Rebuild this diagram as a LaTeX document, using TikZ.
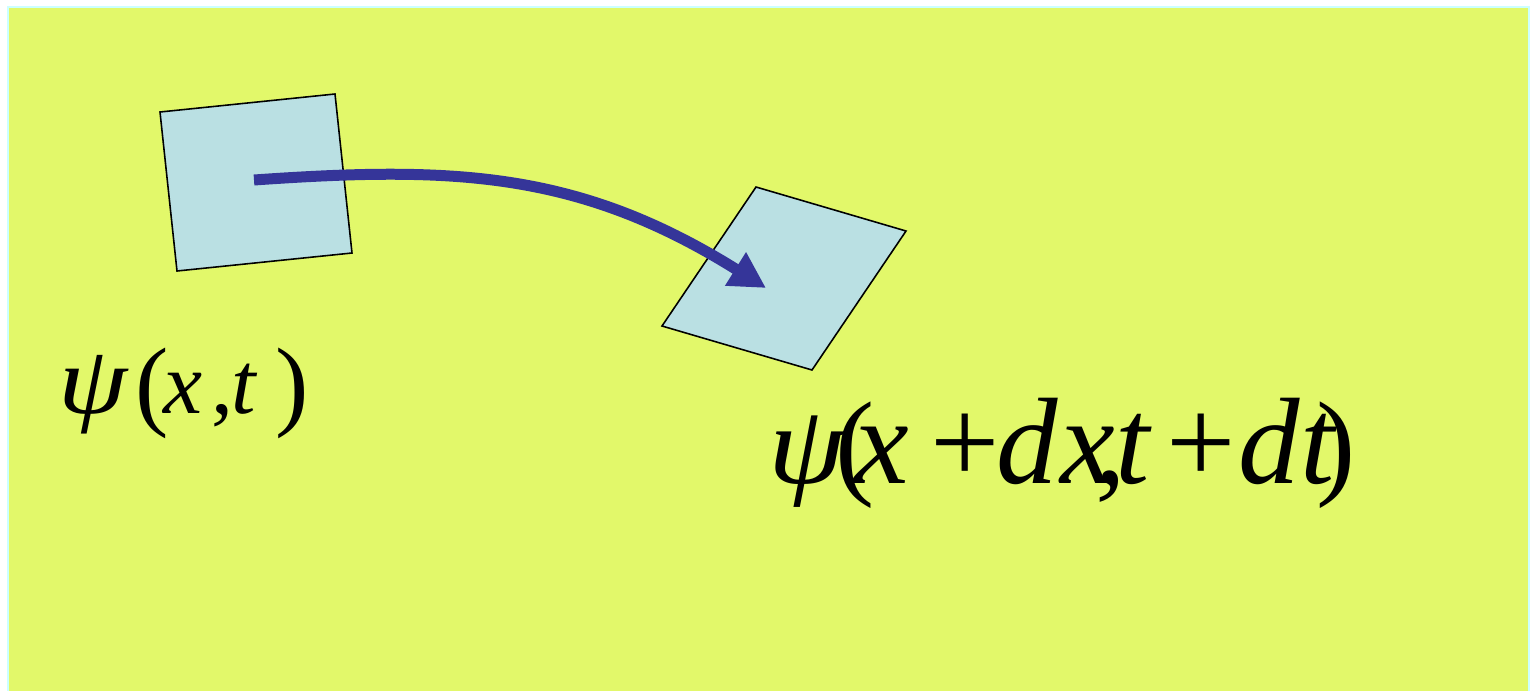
\documentclass[tikz,border=0pt]{standalone}
\usepackage{fontspec}
\setmainfont{Liberation Serif}
\usetikzlibrary{arrows.meta}

\definecolor{sheet}{RGB}{226,248,106}
\definecolor{sheetrim}{RGB}{204,255,255}
\definecolor{cellfill}{RGB}{186,224,227}
\definecolor{flowblue}{RGB}{53,53,153}

\newcommand{\fs}[1]{\fontsize{#1}{#1}\selectfont}
% one glyph in a box as wide as the step to the next one
\newcommand{\gl}[2]{\makebox[#1][l]{#2}}

\begin{document}
\begin{tikzpicture}[
  x=0.02cm, y=-0.02cm,
  cell/.style ={draw=black, line width=0.9pt, fill=cellfill, line join=miter},
  flow/.style ={-{Triangle[length=0.72cm, width=0.74cm]}, flowblue,
                line width=0.22cm},
  lbl/.style  ={anchor=base west, inner sep=0pt},
]
\useasboundingbox (0,0) rectangle (1533,690);

% ============================ sheet =========================================
\begin{scope}
  \clip (0,0) rectangle (1533,690);
  \draw[sheetrim, fill=sheet, line width=0.05cm] (8,7) rectangle (1529,700);
\end{scope}

% ============================ the two cells =================================
\draw[cell] (160,112) -- (335,94) -- (352,253) -- (177,271) -- cycle;
\draw[cell] (756,187) -- (906,231) -- (812,370) -- (662,326) -- cycle;

% ============================ transport ====================================
\coordinate (src) at (254,180);
\coordinate (dst) at (766,288);
\draw[flow] (src) .. controls (454,166) and (579,171) .. (dst);

% ============================ labels =======================================
\node[lbl, font=\fs{50}\itshape] (old) at (58,413)
  {\gl{1.54cm}{\scalebox{1.15}[1]{\fs{55}ψ}}%
   \gl{0.56cm}{\raisebox{-0.08cm}{\fs{57}\upshape(}}%
   \gl{0.96cm}{x}\gl{0.40cm}{\upshape,}\gl{0.88cm}{t}%
   \raisebox{-0.08cm}{\fs{57}\upshape)}};
\node[lbl, font=\fs{70}\itshape] (new) at (768,483)
  {\gl{1.34cm}{\scalebox{1.1}[1]{\fs{64}ψ}}\gl{0.38cm}{\fs{67}\upshape(}%
   \gl{1.52cm}{x}\gl{1.32cm}{\upshape+}\gl{1.28cm}{d}\gl{0.70cm}{x}%
   \gl{0.40cm}{\upshape,}\gl{1.02cm}{t}\gl{1.44cm}{\upshape+}%
   \gl{1.24cm}{d}\gl{0.32cm}{t}{\fs{67}\upshape)}};
\end{tikzpicture}
\end{document}
